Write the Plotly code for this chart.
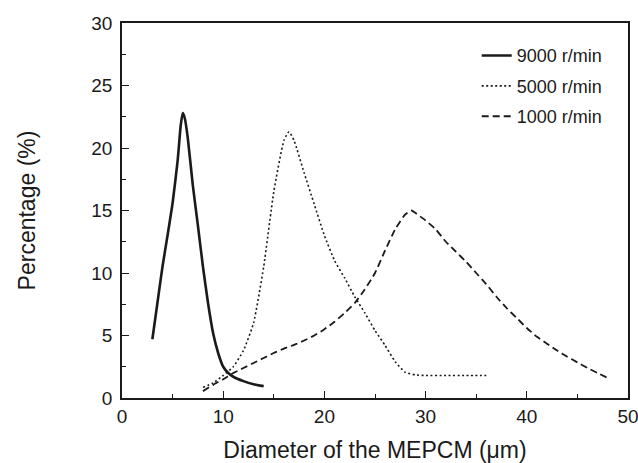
import plotly.graph_objects as go

# ---- data ----
x_9000 = [3, 3.5, 4, 4.5, 5, 5.5, 5.8, 6, 6.2, 6.5, 7, 7.5, 8, 8.5, 9, 9.5, 10, 10.5, 11, 12, 13, 14]
y_9000 = [4.7, 7.6, 10.5, 13.0, 15.6, 19.0, 21.8, 22.8, 22.4, 20.8, 17.0, 13.8, 10.5, 7.6, 5.2, 3.6, 2.5, 2.0, 1.7, 1.35, 1.1, 0.95]

x_5000 = [8, 9, 10, 11, 12, 13, 14, 15, 16, 16.5, 17, 18, 19, 20, 21, 22, 23, 24, 25, 26, 27, 28, 29, 30, 32, 34, 36]
y_5000 = [0.85, 1.2, 1.8, 2.5, 3.8, 6.0, 10.5, 16.5, 20.6, 21.3, 20.6, 18.0, 15.5, 13.0, 11.0, 9.6, 8.1, 6.8, 5.4, 4.2, 2.9, 2.05, 1.85, 1.8, 1.8, 1.8, 1.8]

x_1000 = [8, 9, 10, 11, 12, 13, 14, 15, 16, 17, 18, 19, 20, 21, 22, 23, 24, 25, 26, 27, 28, 28.6,
          29, 30, 31, 32, 33, 34, 35, 36, 37, 38, 39, 40, 41, 42, 43, 44, 45, 46, 47, 48]
y_1000 = [0.55, 1.05, 1.5, 2.0, 2.4, 2.8, 3.2, 3.6, 3.95, 4.25, 4.6, 5.0, 5.5, 6.1, 6.8, 7.6, 8.7, 10.0, 11.8, 13.5, 14.7, 15.0,
          14.8, 14.2, 13.5, 12.5, 11.7, 10.9, 10.0, 9.1, 8.1, 7.2, 6.4, 5.6, 4.9, 4.35, 3.8, 3.3, 2.85, 2.4, 2.0, 1.6]

series_names = ["9000 r/min", "5000 r/min", "1000 r/min"]
x_ticks = [0, 10, 20, 30, 40, 50]
y_ticks = [0, 5, 10, 15, 20, 25, 30]

FONT = "Liberation Sans, Arial, sans-serif"
INK = "#1a1a1a"

fig = go.Figure()
fig.add_trace(go.Scatter(x=x_9000, y=y_9000, mode="lines", name=series_names[0], legendgroup="a",
                         line=dict(color=INK, width=2.6, shape="spline", smoothing=0.5)))
fig.add_trace(go.Scatter(x=x_5000, y=y_5000, mode="lines", name=series_names[1], legendgroup="b",
                         line=dict(color=INK, width=1.6, dash="2px,2.5px", shape="spline", smoothing=0.5)))
fig.add_trace(go.Scatter(x=x_1000, y=y_1000, mode="lines", name=series_names[2], legendgroup="c",
                         line=dict(color=INK, width=1.8, dash="7px,4px", shape="spline", smoothing=0.5)))

axis_common = dict(
    showgrid=False, zeroline=False, showline=True, linecolor=INK, linewidth=1.6,
    mirror=True, ticks="inside", tickcolor=INK, tickwidth=1.4, ticklen=7,
    tickfont=dict(family=FONT, size=19, color=INK), automargin=False,
    ticklabeloverflow="allow",
)

fig.update_xaxes(
    range=[0, 50], tickvals=x_ticks, ticktext=[str(v) for v in x_ticks],
    minor=dict(dtick=5, ticks="inside", ticklen=4, tickcolor=INK, tickwidth=1.4, showgrid=False),
    title=dict(text="Diameter of the MEPCM (μm)", font=dict(family=FONT, size=23, color=INK), standoff=16),
    **axis_common,
)
fig.update_yaxes(
    range=[0, 30], tickvals=y_ticks, ticktext=[str(v) for v in y_ticks],
    minor=dict(dtick=2.5, ticks="inside", ticklen=4, tickcolor=INK, tickwidth=1.4, showgrid=False),
    title=dict(text="Percentage (%)", font=dict(family=FONT, size=23, color=INK), standoff=49),
    ticklabelstandoff=4,
    **axis_common,
)

fig.update_layout(
    width=638, height=463,
    margin=dict(l=122, r=10, t=23, b=65),
    paper_bgcolor="white", plot_bgcolor="white",
    showlegend=True,
    legend=dict(x=0.701, y=0.962, xanchor="left", yanchor="top",
                font=dict(family=FONT, size=18, color=INK),
                bgcolor="rgba(0,0,0,0)", borderwidth=0,
                tracegroupgap=4, traceorder="grouped"),
)

fig.write_html("out.html", config={"displayModeBar": False},
               post_script="document.body.style.margin='0px';")
